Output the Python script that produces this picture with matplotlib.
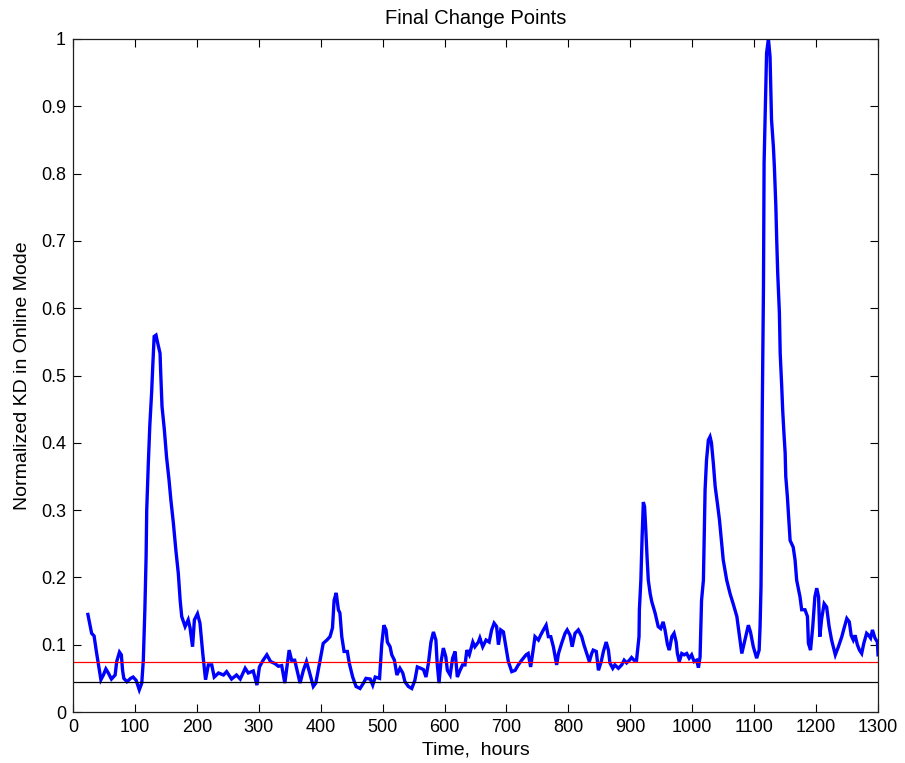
import matplotlib
matplotlib.use("Agg")
import matplotlib.pyplot as plt

plt.rcParams['font.family'] = ['Liberation Sans', 'DejaVu Sans']

# Normalized KD trace (time in hours, value)
hours = [
    24, 30, 34, 38, 45, 49, 53, 57, 62, 68, 70.5, 75, 78, 80, 82, 87, 93, 97, 102, 107,
    111, 113.5, 116, 118, 119, 121.6, 124, 127, 128.7, 131, 134, 136.8, 140.5, 141.6, 143.7,
    147.5, 151, 155, 158, 162, 166, 170, 173, 175.5, 181, 186, 189, 193, 196, 201,
    205, 209.5, 214, 218.5, 224, 228, 235, 243, 248, 256, 264, 270, 278, 283, 291,
    297, 301, 307, 313, 319, 326, 331.6, 337, 342, 349, 353, 358, 366.6, 372, 377,
    381, 388, 392, 398, 404, 410, 415, 419, 421.6, 425, 428.5, 431, 434, 437.7, 443,
    446, 451.6, 457, 463.5, 469, 473, 480, 484, 488, 495, 498.5, 502, 505.5, 507.6,
    512, 514.7, 519, 523, 528, 532.5, 536, 541.5, 547, 552, 556, 561.5, 566, 570,
    574, 578, 582, 586, 588, 591, 594, 598, 602, 604.5, 609, 613, 617, 620.6, 625,
    629, 633, 636, 640, 645.6, 649, 654.6, 657, 661.6, 667, 672, 676, 680, 684, 687,
    690.7, 695, 699, 703, 708.5, 714, 719, 724.6, 731.6, 735, 739, 743, 746, 751.5,
    755, 759.6, 764, 767.6, 771.5, 775.7, 781, 784, 789, 794.6, 798, 802.7, 806,
    810.7, 816, 821.5, 825, 829.6, 833.8, 837.6, 840, 845, 848.5, 853, 856.5, 861,
    864.6, 867, 871.6, 875, 880.7, 886, 890, 894, 898.5, 902, 906, 910, 914, 914.6,
    917, 919, 921, 923, 925, 927, 929, 932, 934.6, 940, 945, 949, 953, 956, 960, 963,
    967, 970.6, 974, 976, 979, 983, 987, 991, 995, 999, 1003, 1007, 1010, 1012.6,
    1013.7, 1015, 1018, 1020.7, 1023, 1026, 1028.7, 1031, 1034, 1037, 1040.6, 1044,
    1050, 1055.6, 1061, 1066, 1072, 1077, 1080, 1085, 1090.6, 1094, 1098.6, 1104,
    1108, 1109.5, 1111, 1112, 1113, 1115, 1116, 1118.6, 1120, 1123, 1125.6, 1127,
    1128, 1131, 1132.6, 1135, 1136.4, 1138, 1140.7, 1142, 1144.5, 1146, 1148, 1150,
    1151, 1153.6, 1156, 1158, 1163, 1166, 1168.6, 1174, 1176.7, 1182, 1186, 1187.6,
    1191, 1194.6, 1198, 1201, 1204, 1206, 1209, 1213, 1217, 1221, 1225, 1231, 1236,
    1241.5, 1245, 1249.6, 1253.6, 1256.6, 1260, 1263, 1266.6, 1270, 1273.6, 1277,
    1281.6, 1285, 1288, 1291, 1295, 1299, 1300,
]
kd = [
    0.145, 0.117, 0.113, 0.088, 0.048, 0.055, 0.064, 0.058, 0.049, 0.055, 0.075, 0.089,
    0.085, 0.062, 0.050, 0.045, 0.050, 0.052, 0.047, 0.033, 0.043, 0.077, 0.152, 0.231,
    0.300, 0.370, 0.426, 0.476, 0.513, 0.558, 0.560, 0.548, 0.533, 0.504, 0.454, 0.419,
    0.379, 0.345, 0.315, 0.281, 0.241, 0.206, 0.166, 0.142, 0.127, 0.137, 0.125, 0.097,
    0.137, 0.146, 0.132, 0.087, 0.048, 0.070, 0.070, 0.052, 0.058, 0.055, 0.060, 0.049,
    0.055, 0.049, 0.065, 0.058, 0.061, 0.040, 0.067, 0.077, 0.085, 0.075, 0.072, 0.068,
    0.069, 0.043, 0.092, 0.077, 0.077, 0.043, 0.062, 0.075, 0.062, 0.038, 0.043, 0.072,
    0.102, 0.107, 0.112, 0.125, 0.166, 0.177, 0.152, 0.147, 0.112, 0.090, 0.090, 0.073,
    0.052, 0.038, 0.035, 0.043, 0.050, 0.049, 0.040, 0.052, 0.050, 0.100, 0.129, 0.122,
    0.104, 0.097, 0.085, 0.077, 0.055, 0.065, 0.058, 0.045, 0.038, 0.035, 0.047, 0.067,
    0.065, 0.063, 0.052, 0.073, 0.104, 0.119, 0.107, 0.073, 0.043, 0.073, 0.095, 0.082,
    0.062, 0.055, 0.080, 0.090, 0.052, 0.062, 0.070, 0.070, 0.092, 0.085, 0.104, 0.097,
    0.104, 0.110, 0.097, 0.107, 0.104, 0.122, 0.132, 0.127, 0.100, 0.122, 0.119, 0.097,
    0.075, 0.060, 0.062, 0.070, 0.077, 0.085, 0.087, 0.067, 0.092, 0.112, 0.107, 0.114,
    0.122, 0.129, 0.112, 0.112, 0.097, 0.070, 0.087, 0.102, 0.117, 0.122, 0.114, 0.097,
    0.117, 0.122, 0.112, 0.100, 0.087, 0.075, 0.087, 0.092, 0.090, 0.062, 0.075, 0.090,
    0.104, 0.092, 0.073, 0.065, 0.070, 0.065, 0.070, 0.077, 0.073, 0.077, 0.081, 0.077,
    0.077, 0.112, 0.152, 0.196, 0.260, 0.312, 0.305, 0.270, 0.230, 0.196, 0.176, 0.164,
    0.147, 0.127, 0.124, 0.134, 0.122, 0.100, 0.092, 0.112, 0.117, 0.104, 0.087, 0.075,
    0.087, 0.085, 0.087, 0.080, 0.085, 0.075, 0.077, 0.066, 0.082, 0.122, 0.166, 0.196,
    0.330, 0.374, 0.404, 0.409, 0.400, 0.370, 0.335, 0.310, 0.285, 0.226, 0.196, 0.176,
    0.161, 0.142, 0.107, 0.087, 0.107, 0.129, 0.119, 0.097, 0.080, 0.092, 0.127, 0.186,
    0.285, 0.444, 0.632, 0.816, 0.924, 0.979, 1.000, 0.974, 0.919, 0.880, 0.840, 0.810,
    0.751, 0.701, 0.652, 0.593, 0.533, 0.483, 0.449, 0.415, 0.385, 0.350, 0.320, 0.285,
    0.255, 0.245, 0.226, 0.196, 0.171, 0.152, 0.152, 0.142, 0.102, 0.092, 0.127, 0.171,
    0.184, 0.171, 0.112, 0.139, 0.161, 0.156, 0.127, 0.107, 0.085, 0.097, 0.112, 0.124,
    0.139, 0.134, 0.114, 0.107, 0.114, 0.100, 0.092, 0.087, 0.102, 0.117, 0.114, 0.110,
    0.122, 0.110, 0.104, 0.085,
]

upper_threshold = 0.075
lower_threshold = 0.044

x_ticks = list(range(0, 1301, 100))
y_ticks = [0, 0.1, 0.2, 0.3, 0.4, 0.5, 0.6, 0.7, 0.8, 0.9, 1]
y_tick_labels = ["0", "0.1", "0.2", "0.3", "0.4", "0.5", "0.6", "0.7", "0.8", "0.9", "1"]

fig = plt.figure(figsize=(9.05, 7.63), dpi=100)
ax = fig.add_axes([0.0807, 0.0668, 0.8895, 0.8821])

ax.plot(hours, kd, color=(0, 0, 1), lw=2.4, solid_joinstyle='miter')
ax.axhline(upper_threshold, color=(1, 0, 0), lw=0.9)
ax.axhline(lower_threshold, color='k', lw=0.9)

ax.set_xlim(0, 1300)
ax.set_ylim(0, 1)
ax.set_xticks(x_ticks)
ax.set_xticklabels([str(t) for t in x_ticks])
ax.set_yticks(y_ticks)
ax.set_yticklabels(y_tick_labels)

ax.tick_params(direction='in', length=6, width=0.8, top=True, right=True,
               labelsize=13, pad=5, colors='k')
for s in ax.spines.values():
    s.set_linewidth(0.9)
    s.set_color('#202020')

ax.set_title("Final Change Points", fontsize=14.5, pad=11)
ax.set_xlabel("Time,  hours", fontsize=14, labelpad=4)
ax.set_ylabel("Normalized KD in Online Mode", fontsize=14, labelpad=7)

fig.savefig("out.png", dpi=100)
